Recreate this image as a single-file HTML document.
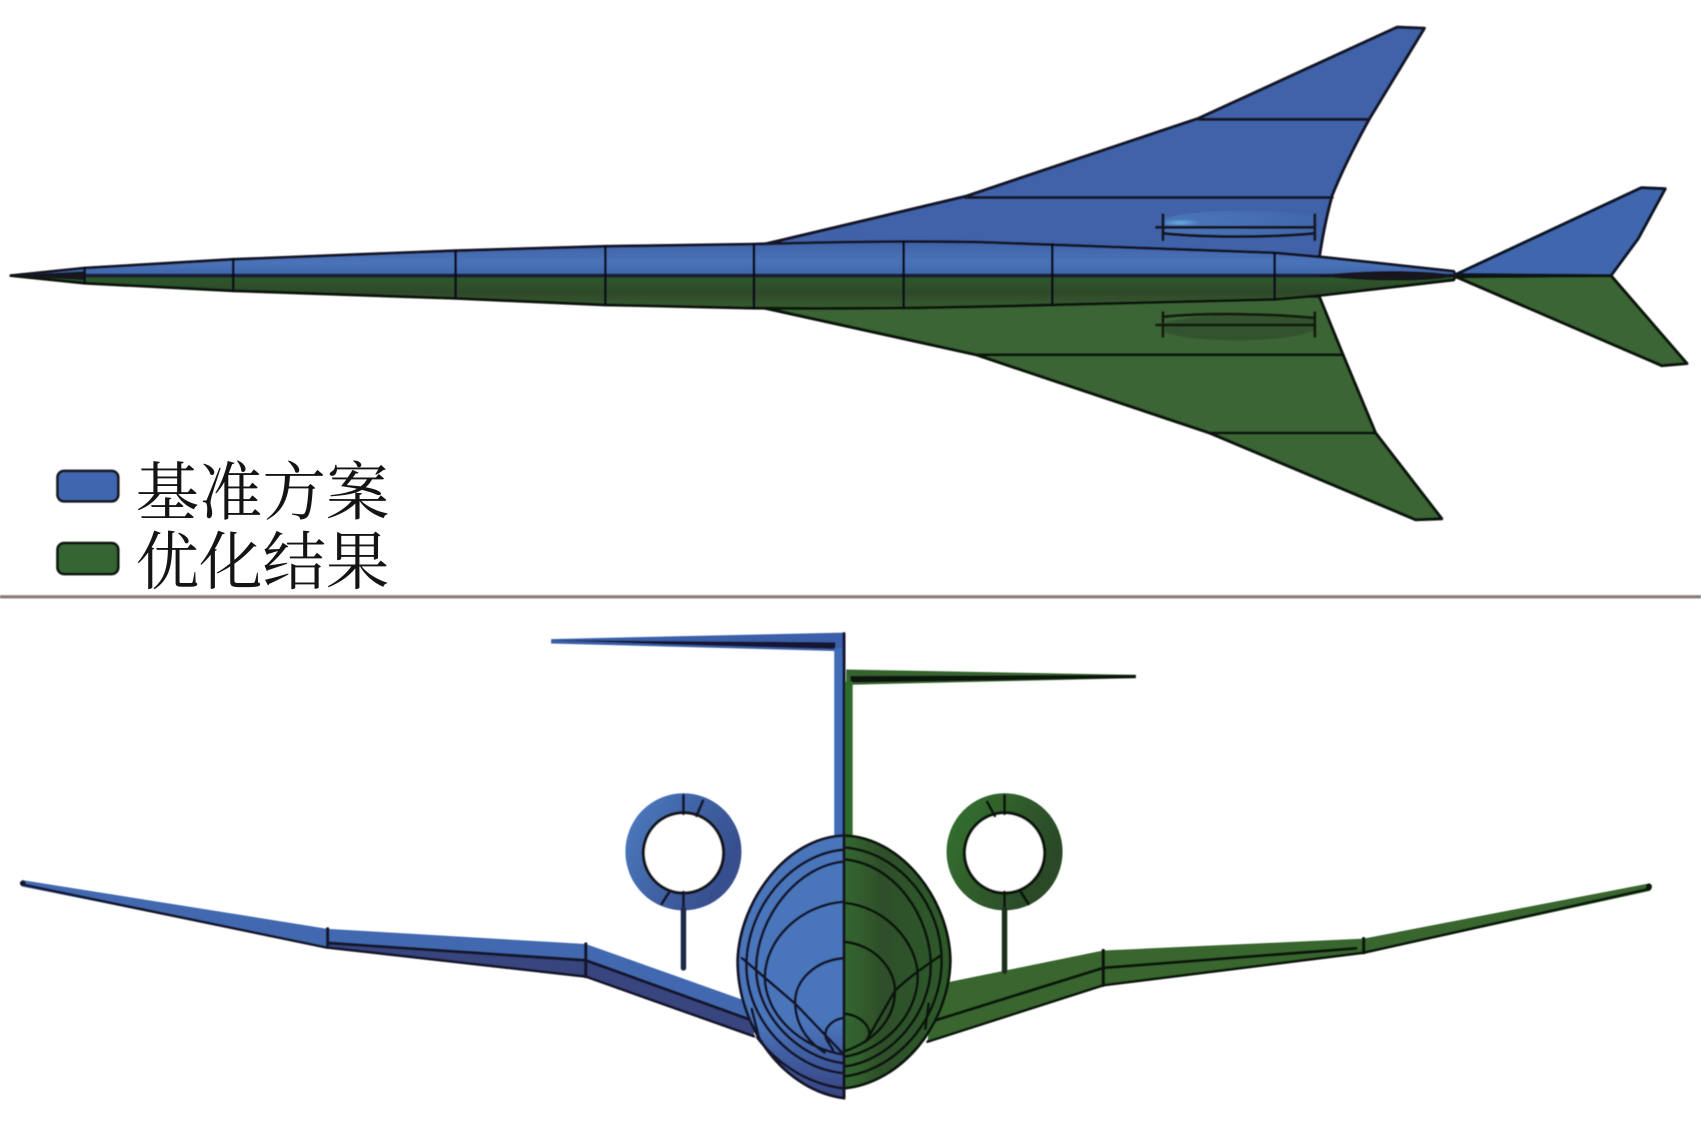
<!DOCTYPE html>
<html><head><meta charset="utf-8"><title>基准方案与优化结果</title>
<style>html,body{margin:0;padding:0;background:#fff;width:1701px;height:1135px;overflow:hidden}svg{display:block}</style></head>
<body>
<svg xmlns="http://www.w3.org/2000/svg" width="1701" height="1135" viewBox="0 0 1568 1046" preserveAspectRatio="none">
<defs>
<filter id="b" x="-5%" y="-5%" width="110%" height="110%"><feGaussianBlur stdDeviation="0.6"/></filter>
<linearGradient id="fb" x1="0" y1="0" x2="0" y2="1"><stop offset="0" stop-color="#3f62a6"/><stop offset="0.6" stop-color="#4a73b8"/><stop offset="1" stop-color="#3f66ad"/></linearGradient>
<linearGradient id="fg" x1="0" y1="0" x2="0" y2="1"><stop offset="0" stop-color="#2c5a2b"/><stop offset="0.5" stop-color="#2f4a2a"/><stop offset="1" stop-color="#365b30"/></linearGradient>
<linearGradient id="bodyb" x1="0" y1="0" x2="0" y2="1"><stop offset="0" stop-color="#4a74ba"/><stop offset="0.72" stop-color="#4a74ba"/><stop offset="0.85" stop-color="#3f5c9f"/><stop offset="1" stop-color="#37447f"/></linearGradient>
<linearGradient id="bodyg" x1="0" y1="0" x2="1" y2="0"><stop offset="0" stop-color="#33682f"/><stop offset="0.35" stop-color="#2f4f2b"/><stop offset="1" stop-color="#2e5a2c"/></linearGradient>
<linearGradient id="ringb" x1="0" y1="0" x2="1" y2="0.5"><stop offset="0" stop-color="#4a78bd"/><stop offset="1" stop-color="#38508f"/></linearGradient>
<linearGradient id="ringg" x1="0" y1="0" x2="1" y2="0.5"><stop offset="0" stop-color="#34702f"/><stop offset="1" stop-color="#2b4a28"/></linearGradient>
<radialGradient id="engb" cx="0.1" cy="0.45" r="0.9"><stop offset="0" stop-color="#64b0e0"/><stop offset="0.15" stop-color="#4a74b8"/><stop offset="1" stop-color="#4268ad"/></radialGradient>
</defs>
<g filter="url(#b)" stroke-linejoin="round" stroke-linecap="round">
<!-- top view: wings -->
<path d="M705 225 L890 181 L1105 109 L1288 25 L1313 26 Q1285 72 1262 110 Q1240 150 1228 180 Q1221 205 1216 238 L1000 235 L705 228Z" fill="#3f62a8" stroke="#121428" stroke-width="2.8"/>
<path d="M705 284 L900 327 L1115 399 L1305 479 L1329 478 L1268 399 L1238 327 L1216 273 L1000 278 L705 282Z" fill="#3a6534" stroke="#0c150c" stroke-width="2.8"/>
<path d="M1105 110H1262M890 182H1228" stroke="#161428" stroke-width="2.8" fill="none"/>
<path d="M900 327H1238M1115 399H1268" stroke="#0e160c" stroke-width="2.6" fill="none"/>
<!-- tail -->
<path d="M1342 253 L1513 173 L1535 174 L1510 220 L1485 254Z" fill="#3f66ad" stroke="#101428" stroke-width="2.8"/>
<path d="M1342 255 L1485 254 L1555 335 L1532 337Z" fill="#3a6534" stroke="#0c150c" stroke-width="2.8"/>
<!-- fuselage -->
<path d="M10 254 L78 247 L215 239 L420 231 L558 227 L695 225 C760 223 830 222 900 223 C1000 226 1100 230 1175 233 L1220 237 L1340 250 L1342 254Z" fill="url(#fb)" stroke="#121226" stroke-width="2.6"/>
<path d="M10 254 L78 261 L215 268 L420 275 L558 281 L695 284 C800 285 900 283 970 281 L1175 276 L1220 272 L1340 258 L1342 254Z" fill="url(#fg)" stroke="#0c130b" stroke-width="2.6"/>
<path d="M10 254 L78 250 L78 258Z" fill="#15161e"/>
<path d="M78 254H1340" stroke="#1a1a30" stroke-width="3.4" fill="none"/>
<path d="M1214 254 C1260 248 1320 249 1343 254 C1320 260 1260 260 1214 254Z" fill="#17141f"/>
<path d="M78 247V261M215 239V268M420 231V275M558 227V281M695 225V284M833 223V283M970 225V281M1175 233V276" stroke="#10111a" stroke-width="2.4" fill="none"/>
<!-- engines top -->
<path d="M1074 201 C1100 192 1190 192 1212 200 L1212 215 C1180 220 1100 220 1074 215Z" fill="url(#engb)"/>
<path d="M1074 298 C1100 288 1190 288 1212 292 L1212 304 C1190 316 1100 317 1074 306Z" fill="#32522e"/>
<path d="M1072 198V221M1212 198V221M1066 209.5H1212M1072 215C1110 219 1170 219 1212 215" stroke="#15131e" stroke-width="2.6" fill="none"/>
<path d="M1072 288V310M1212 288V310M1066 299.5H1212M1072 292C1110 288 1170 289 1212 293" stroke="#121a10" stroke-width="2.6" fill="none"/>
<!-- front: wings -->
<path d="M20 811 L302 856 L540 870 L695 925 L695 955 L540 900 L300 873 L20 817Z" fill="#4269b0" stroke="none"/>
<path d="M302 868 L540 885 L695 941 L695 955 L540 900 L300 873Z" fill="#38457f"/>
<path d="M20 815 L300 873 L540 900 L695 955" stroke="#14142a" stroke-width="2.4" fill="none"/>
<path d="M302 869 L540 885 L695 941" stroke="#14142a" stroke-width="2.8" fill="none"/>
<path d="M302 856V871M540 870V900" stroke="#14142a" stroke-width="3" fill="none"/>
<circle cx="21" cy="814" r="2.6" fill="#14142a"/>
<path d="M1521 814 L1257 865 L1017 876 L860 908 L855 960 L1017 908 L1257 879 L1521 821Z" fill="#37662f"/>
<path d="M1521 819 L1257 878 L1017 908 L855 960" stroke="#0c140b" stroke-width="2.4" fill="none"/>
<path d="M1017 892 L1250 874 M1017 892 L860 941" stroke="#10150c" stroke-width="2.8" fill="none"/>
<path d="M1017 876V908M1257 865V878" stroke="#0c120b" stroke-width="3" fill="none"/>
<circle cx="1520" cy="817" r="2.8" fill="#0c120b"/>
<!-- tail front -->
<path d="M508 589 L778 583 L778 600 L770 600 L508 593Z" fill="#3b5fa8"/>
<path d="M508 590 L770 592 L770 598 L620 594Z" fill="#151830"/>
<rect x="769" y="597" width="9" height="178" fill="#3f6cb8"/>
<path d="M778 584V775" stroke="#121830" stroke-width="2.8" fill="none"/>
<path d="M780 617 L1047 622 L1047 625 L786 631 L780 631Z" fill="#35632f"/>
<path d="M784 623 L1047 622 L1047 625 L784 629Z" fill="#0f180d"/>
<rect x="779" y="628" width="7" height="147" fill="#2f6a2b"/>
<!-- rings -->
<ellipse cx="630" cy="785" rx="45" ry="45.5" fill="none" stroke="url(#ringb)" stroke-width="17"/>
<ellipse cx="630" cy="786" rx="37" ry="37" fill="#fff" stroke="#15161f" stroke-width="3"/>
<path d="M630 733V750M648 738L642 752M630 822V892M617 822L610 833" stroke="#15182a" stroke-width="2.6" fill="none"/>
<path d="M630 838V892" stroke="#1c2a4a" stroke-width="5" fill="none"/>
<ellipse cx="926" cy="785" rx="45" ry="45.5" fill="none" stroke="url(#ringg)" stroke-width="17"/>
<ellipse cx="926" cy="786" rx="37" ry="37" fill="#fff" stroke="#10150e" stroke-width="3"/>
<path d="M926 733V750M910 739L917 752M926 822V895M941 822L948 833" stroke="#10160e" stroke-width="2.6" fill="none"/>
<path d="M926 838V895" stroke="#1c2f1a" stroke-width="5" fill="none"/>
<!-- fuselage front -->
<path d="M778 770 C725 772 682 830 680 885 C680 950 725 1005 778 1012Z" fill="url(#bodyb)" stroke="#121226" stroke-width="2.6"/>
<path d="M778 770 C832 772 875 830 876 885 C875 945 830 998 778 1003Z" fill="url(#bodyg)" stroke="#0c140b" stroke-width="2.6"/>
<g fill="none" stroke="#14142a" stroke-width="2.5">
<path d="M778 783 C730 787 689 835 688 889 C688 940 730 985 778 989"/>
<path d="M778 794 C735 798 698 845 697 892 C697 935 735 975 778 980"/>
<path d="M778 831 C738 834 706 865 705 900 C705 935 738 966 778 972"/>
<path d="M778 883 C752 885 733 903 733 923 C733 945 745 960 760 970"/>
<path d="M778 938 C765 940 758 950 762 958 L768 968"/>
<path d="M684 883 L733 925 L778 972"/>
<path d="M698 956 C720 985 750 1000 778 1003"/>
<path d="M693 930 L700 958"/>
</g>
<g fill="none" stroke="#0f150d" stroke-width="2.5">
<path d="M778 781 C830 785 868 835 868 885 C868 940 825 987 778 992"/>
<path d="M778 792 C825 796 858 845 858 890 C858 935 820 978 778 983"/>
<path d="M778 832 C815 835 846 868 846 900 C846 935 815 968 778 974"/>
<path d="M778 868 C805 870 825 892 825 913 C825 940 805 960 778 969"/>
<path d="M778 934 C795 936 805 948 800 958"/>
<path d="M868 880 C850 892 835 903 825 913 L798 960"/>
<path d="M856 925 L853 948"/>
</g>
<path d="M778 770V1012" stroke="#131420" stroke-width="2.8" fill="none"/>
<!-- legend -->
<rect x="53" y="434" width="56" height="28" rx="6" fill="#3f66b0" stroke="#16161e" stroke-width="2.4"/>
<rect x="53" y="500.5" width="56" height="28.5" rx="6" fill="#366531" stroke="#10140e" stroke-width="2.4"/>
<rect x="0" y="548.5" width="1568" height="3" fill="#8a7a78"/>
</g>
<g font-family="'Liberation Serif','Noto Serif CJK SC',serif" font-size="58.5" fill="#141414">
<text x="125" y="474">基准方案</text>
<text x="125" y="538">优化结果</text>
</g>
</svg>
</body></html>
